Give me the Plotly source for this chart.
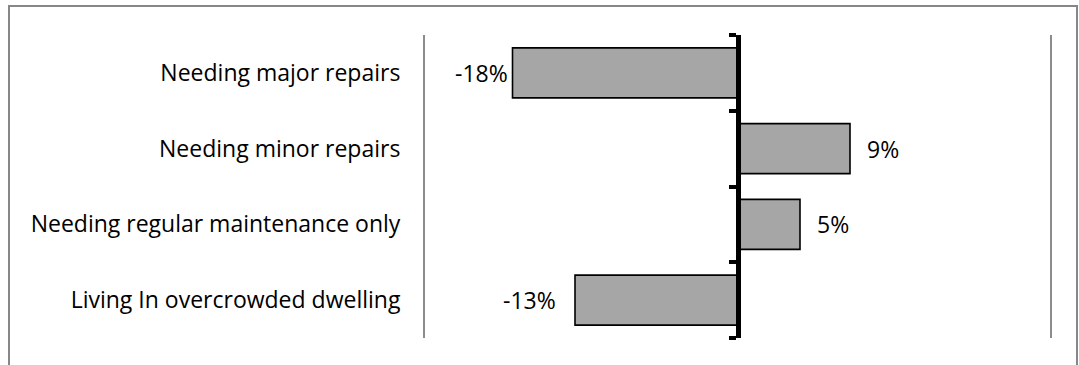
import plotly.graph_objects as go

categories = ["Needing major repairs", "Needing minor repairs",
              "Needing regular maintenance only", "Living In overcrowded dwelling"]
values = [-18, 9, 5, -13]
value_labels = ["-18%", "9%", "5%", "-13%"]

W, H = 1079, 365
L, R, T, B = 425, 29, 35, 27
xmin, xmax = -25, 25
px_per_unit = (W - L - R) / (xmax - xmin)
plot_h = H - T - B

pos = list(range(len(categories)))
FONT = "Open Sans"
FS = 23

fig = go.Figure()
fig.add_trace(go.Bar(
    y=pos, x=values, orientation="h", width=0.66,
    marker=dict(color="#A6A6A6", line=dict(color="#000000", width=1.6)),
    hoverinfo="skip", showlegend=False,
))
# invisible trace to carry the zero axis
fig.add_trace(go.Scatter(x=[0], y=[0], yaxis="y2", mode="markers",
                         marker=dict(opacity=0), hoverinfo="skip", showlegend=False))

# data labels
pad = 15 / px_per_unit
clamp = xmin + 85 / px_per_unit
for p, v, t in zip(pos, values, value_labels):
    if v >= 0:
        fig.add_annotation(x=v + pad, y=p, text=t, xanchor="left", showarrow=False,
                           font=dict(family=FONT, size=FS, color="#000"))
    else:
        xr = max(v - 17 / px_per_unit, clamp)
        fig.add_annotation(x=xr, y=p, text=t, xanchor="right", showarrow=False,
                           font=dict(family=FONT, size=FS, color="#000"))

# outer chart border
def px_x(px):
    return (px - L) / (W - L - R)

def px_y(py):
    return (H - B - py) / plot_h

fig.add_shape(type="rect", xref="paper", yref="paper",
              x0=px_x(9), x1=px_x(1077), y0=px_y(380), y1=px_y(6),
              line=dict(color="#878787", width=2), fillcolor="rgba(0,0,0,0)")

zero_paper = (0 - xmin) / (xmax - xmin)
bounds = [p - 0.5 for p in pos] + [pos[-1] + 0.5]

fig.update_layout(
    width=W, height=H,
    margin=dict(l=L, r=R, t=T, b=B, pad=0),
    paper_bgcolor="white", plot_bgcolor="white",
    bargap=0.34,
    font=dict(family=FONT, size=FS, color="#000"),
    xaxis=dict(range=[xmin, xmax], showgrid=False, zeroline=False,
               showticklabels=False, ticks="", showline=False, fixedrange=True),
    yaxis=dict(range=[pos[-1] + 0.5, pos[0] - 0.5], tickvals=pos, ticktext=categories,
               showgrid=False, zeroline=False, ticks="", showline=True, mirror=True,
               linecolor="#8C8C8C", linewidth=2, ticklabelstandoff=18,
               tickfont=dict(family=FONT, size=FS, color="#000")),
    yaxis2=dict(range=[pos[-1] + 0.5, pos[0] - 0.5], overlaying="y", anchor="free",
                position=zero_paper, side="left", showline=True, linecolor="#000",
                linewidth=5, ticks="outside", ticklen=7, tickwidth=4, tickcolor="#000",
                tickvals=bounds, showticklabels=False, showgrid=False, zeroline=False),
)

fig.write_html("out.html", config={"displayModeBar": False},
               post_script="document.body.style.margin='0';")
